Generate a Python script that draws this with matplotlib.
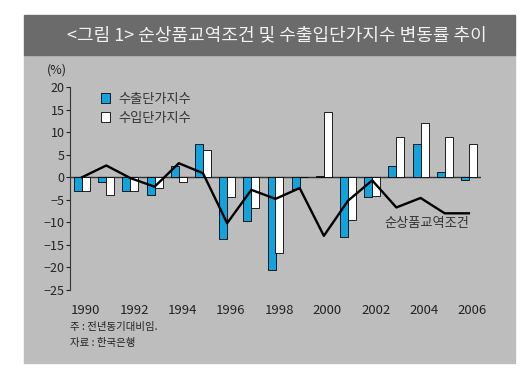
import numpy as np
import matplotlib
matplotlib.use('Agg')
from matplotlib import pyplot as plt
from matplotlib.patches import Rectangle

plt.rcParams['font.family'] = ['Noto Sans CJK KR', 'DejaVu Sans']

# 데이터 (전년동기대비 %)
years = list(range(1990, 2007))
export_price = [-3.1, -1.1, -3.1, -4.0, 2.4, 7.4, -13.7, -9.6, -20.6, -2.6,
                0.2, -13.2, -4.4, 2.4, 7.4, 1.1, -0.6]
import_price = [-3.1, -3.9, -3.1, -2.4, -1.1, 6.1, -4.3, -6.9, -16.9, 0.0,
                14.4, -9.5, -4.1, 9.0, 12.1, 9.0, 7.4]
terms_of_trade = [0.0, 2.6, -0.2, -2.1, 3.1, 0.9, -10.2, -2.8, -4.8, -2.4,
                  -13.0, -5.2, -0.7, -6.7, -4.6, -8.0, -8.0]
year_labels = [str(y) for y in years[::2]]

fig = plt.figure(figsize=(5.2, 3.75), dpi=100)
fig.patch.set_facecolor('white')

W, H = 520, 375
# 배경 패널과 제목 바
fig.patches.append(Rectangle((24 / W, 1 - 363 / H), 491 / W, 308 / H,
                             transform=fig.transFigure, color='#bdbdbd', zorder=-2))
fig.patches.append(Rectangle((24 / W, 1 - 55 / H), 491 / W, 40 / H,
                             transform=fig.transFigure, color='#6b6b6b', zorder=-1))
fig.text(277 / W, 1 - 35 / H, '<그림 1> 순상품교역조건 및 수출입단가지수 변동률 추이',
         ha='center', va='center', fontsize=13, color='#f2f2f2')

ax = fig.add_axes([70 / W, 1 - 290 / H, 411 / W, 203 / H])
ax.set_facecolor('none')

x = np.arange(len(years))
w = 0.33
ax.bar(x - w / 2, export_price, width=w, color='#12a2dc', edgecolor='black',
       linewidth=0.6, label='수출단가지수', zorder=2)
ax.bar(x + w / 2, import_price, width=w, color='white', edgecolor='black',
       linewidth=0.6, label='수입단가지수', zorder=2)
ax.axhline(0, color='#333333', linewidth=1.0, zorder=1)
ax.plot(x, terms_of_trade, color='black', linewidth=1.7, zorder=3)

ax.set_xlim(-0.5, 16.5)
ax.set_ylim(-25, 20)
ax.set_yticks(range(-25, 21, 5))
ax.tick_params(axis='y', direction='out', length=3, width=0.8, labelsize=9,
               colors='#222222', pad=1)
ax.set_xticks(x[::2] + 0.15)
ax.set_xticklabels(year_labels)
ax.tick_params(axis='x', length=0, labelsize=9.5, colors='#222222', pad=10)
for s in ['top', 'right', 'bottom']:
    ax.spines[s].set_visible(False)
ax.spines['left'].set_linewidth(0.8)
ax.spines['left'].set_color('#333333')

fig.text(57 / W, 1 - 70 / H, '(%)', ha='center', va='center', fontsize=9, color='#222222')

leg = ax.legend(loc='upper left', bbox_to_anchor=(94 / W, 1 - 86 / H),
                bbox_transform=fig.transFigure, frameon=False, fontsize=9.5,
                handlelength=0.75, handleheight=0.75, handletextpad=0.6,
                labelspacing=0.45, borderpad=0)
for t in leg.get_texts():
    t.set_color('#333333')

ax.text(427 / W, 1 - 223 / H, '순상품교역조건', transform=fig.transFigure,
        ha='center', va='center', fontsize=9.5, color='#333333')

fig.text(70 / W, 1 - 327 / H, '주 : 전년동기대비임.', ha='left', va='center',
         fontsize=7.5, color='#222222')
fig.text(70 / W, 1 - 343 / H, '자료 : 한국은행', ha='left', va='center',
         fontsize=7.5, color='#222222')

plt.savefig('out.png', dpi=100, facecolor=fig.get_facecolor())
